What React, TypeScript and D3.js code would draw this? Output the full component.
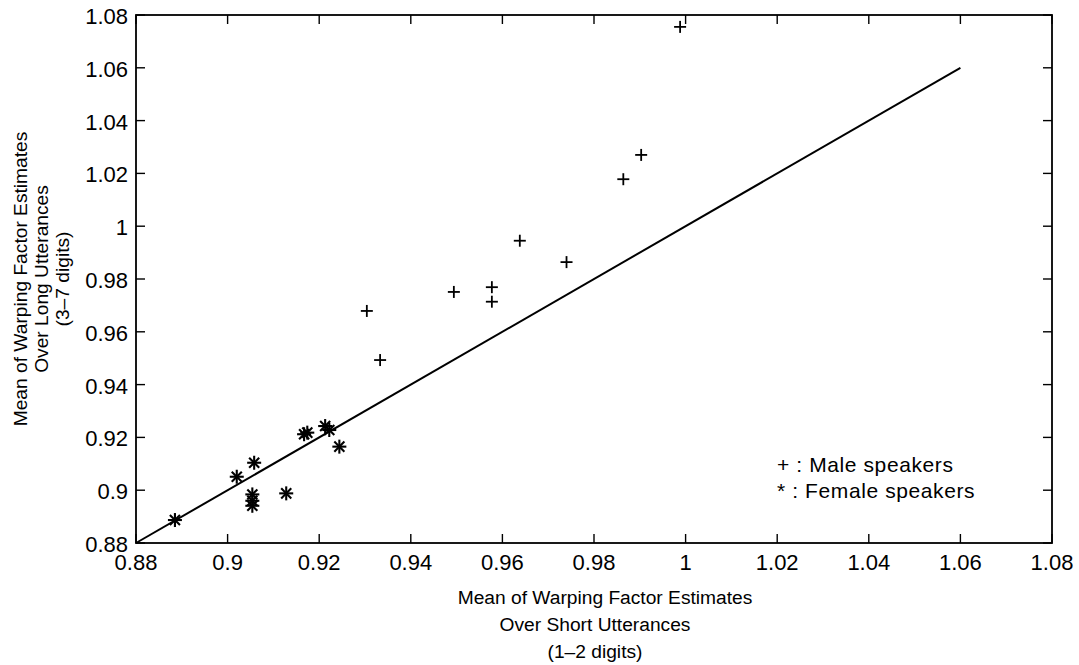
import React from "react";
import * as d3 from "d3";

const xTicks = [0.88, 0.9, 0.92, 0.94, 0.96, 0.98, 1, 1.02, 1.04, 1.06, 1.08];
const yTicks = [0.88, 0.9, 0.92, 0.94, 0.96, 0.98, 1, 1.02, 1.04, 1.06, 1.08];

const maleX = [0.9988, 0.9903, 0.9864, 0.9638, 0.974, 0.9577, 0.9577, 0.9494, 0.9304, 0.9333];
const maleY = [1.0755, 1.027, 1.0178, 0.9945, 0.9864, 0.9769, 0.9714, 0.9751, 0.9679, 0.9493];

const femaleX = [0.8885, 0.902, 0.9058, 0.9054, 0.9054, 0.9054, 0.9128, 0.9167, 0.9174, 0.9213, 0.9222, 0.9244];
const femaleY = [0.8887, 0.9051, 0.9104, 0.8984, 0.896, 0.8941, 0.8988, 0.9212, 0.9218, 0.9243, 0.9228, 0.9165];

const refLineX = [0.88, 1.06];
const refLineY = [0.88, 1.06];

const xLabelLines = ["Mean of Warping Factor Estimates", "Over Short Utterances", "(1\u20132 digits)"];
const yLabelLines = ["Mean of Warping Factor Estimates", "Over Long Utterances", "(3\u20137 digits)"];
const legendLines = ["+ : Male speakers", "* : Female speakers"];

const W = 1079;
const H = 665;
const left = 136;
const right = 1052;
const top = 15;
const bottom = 543;
const FONT = "'Liberation Sans', Arial, Helvetica, sans-serif";

export default function App() {
  const x = d3.scaleLinear().domain([0.88, 1.08]).range([left, right]);
  const y = d3.scaleLinear().domain([0.88, 1.08]).range([bottom, top]);
  const line = d3
    .line<number>()
    .x((d) => x(refLineX[d]))
    .y((d) => y(refLineY[d]));
  const tickLen = 9;
  const plusR = 6;
  const starR = 7;
  const starD = starR * 0.72;

  return (
    <svg
      width={W}
      height={H}
      style={{ position: "absolute", left: 0, top: 0, background: "#fff" }}
      fontFamily={FONT}
    >
      <rect x={0} y={0} width={W} height={H} fill="#fff" />
      {/* frame */}
      <rect x={left} y={top} width={right - left} height={bottom - top} fill="none" stroke="#000" strokeWidth={1.8} />
      {/* x ticks */}
      {xTicks.map((t, i) => (
        <g key={"xt" + i}>
          <line x1={x(t)} x2={x(t)} y1={bottom} y2={bottom - tickLen} stroke="#000" strokeWidth={1.4} />
          <line x1={x(t)} x2={x(t)} y1={top} y2={top + tickLen} stroke="#000" strokeWidth={1.4} />
          <text x={x(t)} y={bottom + 27} textAnchor="middle" fontSize={22} fill="#000">
            {String(t)}
          </text>
        </g>
      ))}
      {/* y ticks */}
      {yTicks.map((t, i) => (
        <g key={"yt" + i}>
          <line x1={left} x2={left + tickLen} y1={y(t)} y2={y(t)} stroke="#000" strokeWidth={1.4} />
          <line x1={right} x2={right - tickLen} y1={y(t)} y2={y(t)} stroke="#000" strokeWidth={1.4} />
          <text x={left - 8} y={y(t) + 9} textAnchor="end" fontSize={22} fill="#000">
            {String(t)}
          </text>
        </g>
      ))}
      {/* reference line */}
      <path d={line([0, 1]) || ""} fill="none" stroke="#000" strokeWidth={2} />
      {/* male markers */}
      {maleX.map((mx, i) => {
        const cx = x(mx);
        const cy = y(maleY[i]);
        return (
          <g key={"m" + i} stroke="#000" strokeWidth={1.8}>
            <line x1={cx - plusR} x2={cx + plusR} y1={cy} y2={cy} />
            <line x1={cx} x2={cx} y1={cy - plusR} y2={cy + plusR} />
          </g>
        );
      })}
      {/* female markers */}
      {femaleX.map((fx, i) => {
        const cx = x(fx);
        const cy = y(femaleY[i]);
        return (
          <g key={"f" + i} stroke="#000" strokeWidth={2.1}>
            <line x1={cx - starR} x2={cx + starR} y1={cy} y2={cy} />
            <line x1={cx} x2={cx} y1={cy - starR} y2={cy + starR} />
            <line x1={cx - starD} x2={cx + starD} y1={cy - starD} y2={cy + starD} />
            <line x1={cx - starD} x2={cx + starD} y1={cy + starD} y2={cy - starD} />
          </g>
        );
      })}
      {/* legend */}
      {legendLines.map((s, i) => (
        <text key={"lg" + i} x={777} y={472 + i * 26} fontSize={21} letterSpacing={0.6} fill="#000" style={{ whiteSpace: "pre" }}>
          {s}
        </text>
      ))}
      {/* x label */}
      {xLabelLines.map((s, i) => (
        <text key={"xl" + i} x={i === 0 ? 605 : 595} y={604 + i * 27} textAnchor="middle" fontSize={19.2} fill="#000">
          {s}
        </text>
      ))}
      {/* y label */}
      {yLabelLines.map((s, i) => (
        <text
          key={"yl" + i}
          transform={`translate(${27 + i * 21},${(top + bottom) / 2}) rotate(-90)`}
          textAnchor="middle"
          fontSize={19.2}
          fill="#000"
        >
          {s}
        </text>
      ))}
    </svg>
  );
}
